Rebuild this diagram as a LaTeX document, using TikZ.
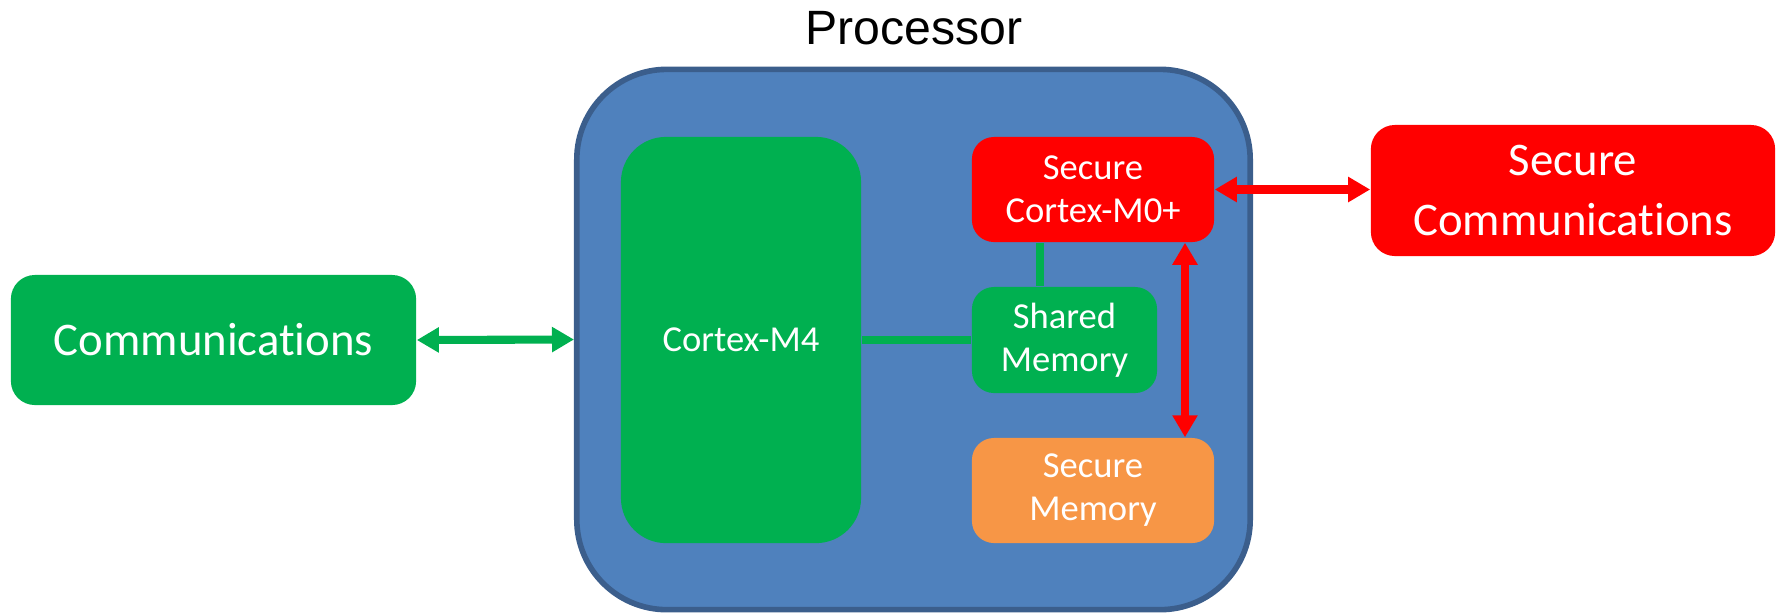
\documentclass[tikz,border=0pt]{standalone}
\usepackage{fontspec}
\setmainfont{Carlito}[Ligatures=NoCommon]
\newfontfamily\arialfont{Liberation Sans}
\usetikzlibrary{arrows.meta,calc}

\definecolor{procblue}{HTML}{4F81BD}
\definecolor{procedge}{HTML}{3B5E8C}
\definecolor{boxgreen}{HTML}{00B050}
\definecolor{boxred}{HTML}{FF0000}
\definecolor{boxorange}{HTML}{F79646}

\begin{document}
\begin{tikzpicture}[x=0.01cm,y=-0.01cm,
  blk/.style={rectangle, text=white, align=center, inner sep=0pt},
  big/.style={blk, font=\fontsize{13.3}{16.8}\selectfont, minimum width=4.05cm, minimum height=1.3cm, rounded corners=0.24cm},
  small/.style={blk, font=\fontsize{10.4}{12.2}\selectfont, minimum height=1.05cm, rounded corners=0.22cm},
  tip/.tip={Triangle[length=0.22cm,width=0.24cm]},
  greenarrow/.style={boxgreen, line width=2.3pt, tip-tip},
  redarrow/.style={boxred, line width=2.3pt, tip-tip},
  greenline/.style={boxgreen, line width=2.4pt}]
\useasboundingbox (0,0) rectangle (1781,614);
% processor
\node[font=\arialfont\fontsize{13.7}{16}\selectfont] (proctitle) at (914,28) {Processor};
\node[blk, fill=procblue, draw=procedge, line width=1.6pt, minimum width=6.73cm, minimum height=5.4cm, rounded corners=0.9cm] (proc) at (913.5,339.5) {};
% inside the processor
\node[blk, fill=boxgreen, font=\fontsize{10.4}{12.2}\selectfont, minimum width=2.4cm, minimum height=4.06cm, rounded corners=0.45cm] (m4) at (741,340) {Cortex-M4};
\node[small, fill=boxred, minimum width=2.42cm] (m0) at (1093,189.5) {Secure\\Cortex-M0+};
\node[small, fill=boxgreen, minimum width=1.85cm, minimum height=1.06cm] (shm) at (1064.5,340) {Shared\\Memory};
\node[small, fill=boxorange, minimum width=2.42cm] (smem) at (1093,490.5) {Secure\\Memory};
% outside
\node[big, fill=boxgreen] (comm) at (213.5,340) {Communications};
\node[big, fill=boxred, minimum width=4.04cm, minimum height=1.31cm] (scomm) at (1573,190.5) {Secure\\Communications};
% connectors
\draw[greenarrow] (comm.east) -- (proc.west);
\draw[greenline] (m4.east) -- (shm.west);
\draw[greenline] ($(m0.south)+(-53,0)$) -- ($(shm.north)+(-24.5,0)$);
\draw[redarrow] (m0.east) -- (m0.east -| scomm.west);
\draw[redarrow] ($(m0.south)+(92,0)$) -- ($(smem.north)+(92,0)$);
\end{tikzpicture}
\end{document}
